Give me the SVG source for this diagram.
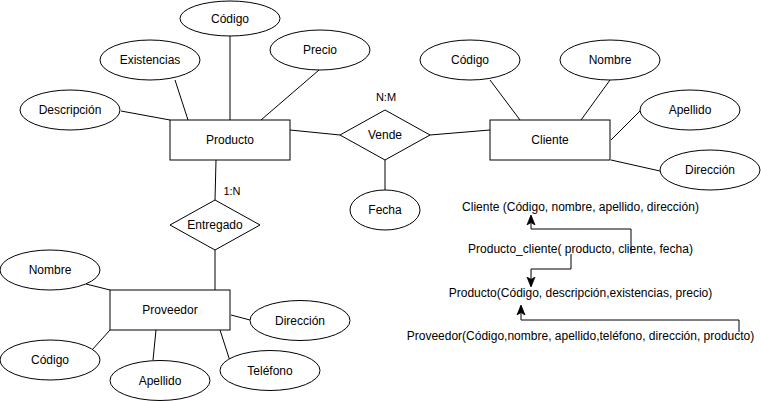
<svg xmlns="http://www.w3.org/2000/svg" width="761" height="401" viewBox="0 0 761 401">
<style>
.s{fill:#fff;stroke:#000;stroke-width:1}
.t{font-family:"Liberation Sans",Arial,sans-serif;font-size:12px;fill:#000;text-anchor:middle;dominant-baseline:central}
.l{font-family:"Liberation Sans",Arial,sans-serif;font-size:11px;fill:#000;text-anchor:middle;dominant-baseline:central}
.c{fill:none;stroke:#000;stroke-width:1}
</style>
<defs>
<marker id="ah" viewBox="0 0 10 10" refX="9" refY="5" markerWidth="10" markerHeight="10" markerUnits="userSpaceOnUse" orient="auto">
<path d="M0,1 L10,5 L0,9 L2.5,5 Z" fill="#000" stroke="#000" stroke-width="0.8"/>
</marker>
</defs>
<rect width="761" height="401" fill="#fff"/>
<g id="connectors">
<line class="c" x1="230" y1="36" x2="230" y2="120"/>
<line class="c" x1="175" y1="80" x2="188" y2="120"/>
<line class="c" x1="319" y1="70" x2="261" y2="120"/>
<line class="c" x1="121" y1="111" x2="170" y2="120"/>
<line class="c" x1="290" y1="130" x2="340" y2="135"/>
<line class="c" x1="430" y1="135" x2="490" y2="130"/>
<line class="c" x1="385" y1="160" x2="385" y2="190"/>
<line class="c" x1="490" y1="80" x2="520" y2="120"/>
<line class="c" x1="610" y1="80" x2="581" y2="120"/>
<line class="c" x1="640" y1="111" x2="611" y2="140"/>
<line class="c" x1="611" y1="160" x2="660" y2="171"/>
<line class="c" x1="216" y1="160" x2="215" y2="200"/>
<line class="c" x1="215" y1="250" x2="215" y2="290"/>
<line class="c" x1="86" y1="284" x2="110" y2="290"/>
<line class="c" x1="92" y1="350" x2="110" y2="330"/>
<line class="c" x1="153" y1="360" x2="156" y2="330"/>
<line class="c" x1="230" y1="361" x2="220" y2="330"/>
<line class="c" x1="231" y1="315" x2="250" y2="320"/>
<polyline class="c" points="631,254 631,229 531,229 531,216" marker-end="url(#ah)"/>
<polyline class="c" points="571,254 571,269 531,269 531,286" marker-end="url(#ah)"/>
<polyline class="c" points="739,332 739,320 521,320 521,306" marker-end="url(#ah)"/>
</g>
<g id="producto"><rect class="s" x="170" y="120" width="120" height="40"/><text class="t" x="230" y="140">Producto</text></g>
<g id="p-codigo"><ellipse class="s" cx="230" cy="18.5" rx="50" ry="17.5"/><text class="t" x="230" y="18.5">Código</text></g>
<g id="p-existencias"><ellipse class="s" cx="150" cy="60" rx="50" ry="20"/><text class="t" x="150" y="60">Existencias</text></g>
<g id="p-precio"><ellipse class="s" cx="320" cy="50" rx="50" ry="20"/><text class="t" x="320" y="50">Precio</text></g>
<g id="p-descripcion"><ellipse class="s" cx="70" cy="110" rx="50" ry="20"/><text class="t" x="70" y="110">Descripción</text></g>
<g id="vende"><polygon class="s" points="340,135 385,110 430,135 385,160"/><text class="t" x="385" y="135">Vende</text><text class="l" x="386" y="97">N:M</text></g>
<g id="fecha"><ellipse class="s" cx="385" cy="210" rx="35" ry="20"/><text class="t" x="385" y="210">Fecha</text></g>
<g id="cliente"><rect class="s" x="490" y="120" width="120" height="40"/><text class="t" x="550" y="140">Cliente</text></g>
<g id="c-codigo"><ellipse class="s" cx="470" cy="60" rx="50" ry="20"/><text class="t" x="470" y="60">Código</text></g>
<g id="c-nombre"><ellipse class="s" cx="610" cy="60" rx="50" ry="20"/><text class="t" x="610" y="60">Nombre</text></g>
<g id="c-apellido"><ellipse class="s" cx="690" cy="110" rx="50" ry="20"/><text class="t" x="690" y="110">Apellido</text></g>
<g id="c-direccion"><ellipse class="s" cx="710" cy="170" rx="50" ry="20"/><text class="t" x="710" y="170">Dirección</text></g>
<g id="entregado"><polygon class="s" points="170,225 215,200 260,225 215,250"/><text class="t" x="215" y="225">Entregado</text><text class="l" x="232" y="191">1:N</text></g>
<g id="proveedor"><rect class="s" x="110" y="290" width="120" height="40"/><text class="t" x="170" y="310">Proveedor</text></g>
<g id="v-nombre"><ellipse class="s" cx="50" cy="270" rx="50" ry="20"/><text class="t" x="50" y="270">Nombre</text></g>
<g id="v-codigo"><ellipse class="s" cx="50" cy="360" rx="50" ry="20"/><text class="t" x="50" y="360">Código</text></g>
<g id="v-apellido"><ellipse class="s" cx="160" cy="380.5" rx="50" ry="20"/><text class="t" x="160" y="380.5">Apellido</text></g>
<g id="v-telefono"><ellipse class="s" cx="270" cy="370.5" rx="50" ry="20"/><text class="t" x="270" y="370.5">Teléfono</text></g>
<g id="v-direccion"><ellipse class="s" cx="300" cy="320.5" rx="50" ry="20"/><text class="t" x="300" y="320.5">Dirección</text></g>
<g id="rel-cliente"><text class="t" x="580.5" y="207">Cliente (Código, nombre, apellido, dirección)</text></g>
<g id="rel-producto-cliente"><text class="t" x="580.5" y="249">Producto_cliente( producto, cliente, fecha)</text></g>
<g id="rel-producto"><text class="t" x="580.5" y="293">Producto(Código, descripción,existencias, precio)</text></g>
<g id="rel-proveedor"><text class="t" x="580.5" y="336">Proveedor(Código,nombre, apellido,teléfono, dirección, producto)</text></g>
</svg>
